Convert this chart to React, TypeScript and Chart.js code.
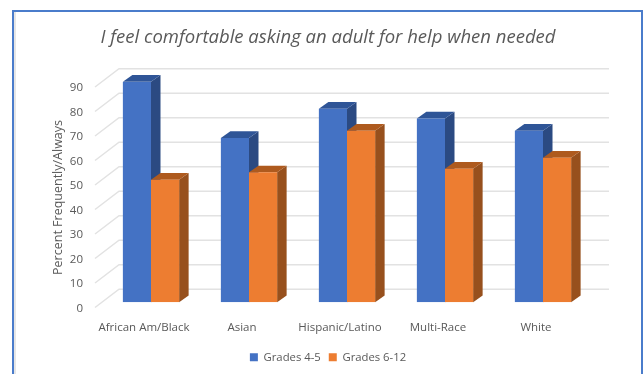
import React, { useEffect, useRef } from "react";
import { Chart, registerables } from "chart.js";

Chart.register(...registerables);

const categories = ["African Am/Black", "Asian", "Hispanic/Latino", "Multi-Race", "White"];
const grades4to5 = [90, 67, 79, 75, 70];
const grades6to12 = [50, 53, 70, 54.5, 59];
const seriesNames = ["Grades 4-5", "Grades 6-12"];
const axisTitle = "Percent Frequently/Always";

const FRONT = ["#4472c4", "#ed7d31"];
const SIDE = ["#2b4a82", "#97501d"];
const TOP = ["#2f5597", "#ae5a1e"];
const TEXT = "#595959";
const GRID = "#e2e2e2";
const FONT = "'Open Sans', sans-serif";

// Depth of the extruded bars, and of the floor the wall grid recedes across.
const BAR_DX = 9.5;
const BAR_DY = 6.7;
const WALL_DX = 17;
const WALL_DY = 13;

const faces3d = {
  id: "faces3d",
  beforeDatasetsDraw(chart: any) {
    const { ctx, chartArea, scales } = chart;
    const y = scales.y;
    ctx.save();
    ctx.strokeStyle = GRID;
    ctx.lineWidth = 1.5;
    for (const t of y.ticks) {
      const p = y.getPixelForValue(t.value);
      ctx.beginPath();
      ctx.moveTo(chartArea.left - 7, p + 5.3);
      ctx.lineTo(chartArea.left + WALL_DX, p - WALL_DY);
      ctx.lineTo(chartArea.right + WALL_DX, p - WALL_DY);
      ctx.stroke();
    }
    chart.data.datasets.forEach((_: any, i: number) => {
      for (const bar of chart.getDatasetMeta(i).data) {
        const { x, y: top, base, width } = bar.getProps(["x", "y", "base", "width"], true);
        const l = x - width / 2;
        const r = x + width / 2;
        ctx.fillStyle = SIDE[i];
        ctx.beginPath();
        ctx.moveTo(r, top);
        ctx.lineTo(r + BAR_DX, top - BAR_DY);
        ctx.lineTo(r + BAR_DX, base - BAR_DY);
        ctx.lineTo(r, base);
        ctx.closePath();
        ctx.fill();
        ctx.fillStyle = TOP[i];
        ctx.beginPath();
        ctx.moveTo(l, top);
        ctx.lineTo(l + BAR_DX, top - BAR_DY);
        ctx.lineTo(r + BAR_DX, top - BAR_DY);
        ctx.lineTo(r, top);
        ctx.closePath();
        ctx.fill();
      }
    });
    ctx.restore();
  },
  afterDraw(chart: any) {
    // Rotated caption for the value axis, set slightly below the axis midpoint.
    const { ctx, chartArea } = chart;
    ctx.save();
    ctx.translate(chartArea.left - 44, (chartArea.top + chartArea.bottom) / 2 + 5.5);
    ctx.rotate(-Math.PI / 2);
    ctx.fillStyle = TEXT;
    ctx.font = `12.5px ${FONT}`;
    ctx.textAlign = "center";
    ctx.textBaseline = "middle";
    ctx.fillText(axisTitle, 0, 0);
    ctx.restore();
  },
};

export default function App() {
  const ref = useRef<HTMLCanvasElement>(null);
  useEffect(() => {
    const chart = new Chart(ref.current!, {
      type: "bar",
      plugins: [faces3d],
      data: {
        labels: categories,
        datasets: [
          { label: seriesNames[0], data: grades4to5, backgroundColor: FRONT[0] },
          { label: seriesNames[1], data: grades6to12, backgroundColor: FRONT[1] },
        ],
      },
      options: {
        animation: false,
        responsive: false,
        layout: { padding: { left: 13, right: 0, top: 0, bottom: 1 } },
        datasets: { bar: { barPercentage: 1, categoryPercentage: 0.574 } },
        plugins: {
          tooltip: { enabled: false },
          title: {
            display: true,
            text: "I feel comfortable asking an adult for help when needed",
            color: TEXT,
            font: { family: FONT, size: 18.5, style: "italic", weight: "normal" },
            padding: { top: 27, bottom: 32.5 },
          },
          legend: {
            position: "bottom",
            labels: {
              boxWidth: 8,
              boxHeight: 8,
              color: TEXT,
              font: { family: FONT, size: 11.3 },
              padding: 8,
            },
          },
        },
        scales: {
          x: {
            grid: { display: false },
            border: { display: false },
            ticks: { color: TEXT, font: { family: FONT, size: 11.5 }, labelOffset: -7, maxRotation: 0, padding: 10.5 },
            afterFit(s: any) { s.height = 41.5; },
          },
          y: {
            min: 0,
            max: 90,
            grid: { display: false },
            border: { display: false },
            ticks: { stepSize: 10, color: TEXT, font: { family: FONT, size: 11.5 }, labelOffset: 6.5, padding: 11 },
            afterFit(s: any) { s.width = 89; },
          },
          // Empty axis that reserves the room on the right of the plot.
          gutter: {
            position: "right",
            grid: { display: false },
            border: { display: false },
            ticks: { display: false },
            afterFit(s: any) { s.width = 51; },
          },
        },
      },
    } as any);
    return () => chart.destroy();
  }, []);
  return (
    <div style={{ position: "absolute", left: 0, top: 0, width: 643, height: 374, overflow: "hidden", background: "#fff" }}>
      <canvas ref={ref} width={643} height={374} style={{ display: "block" }} />
      <div
        style={{
          position: "absolute",
          left: 12,
          top: 10,
          width: 631,
          height: 400,
          boxSizing: "border-box",
          border: "2px solid #4a7ccb",
          boxShadow: "inset 2px 0 0 #e6e6e6",
          pointerEvents: "none",
        }}
      />
    </div>
  );
}
